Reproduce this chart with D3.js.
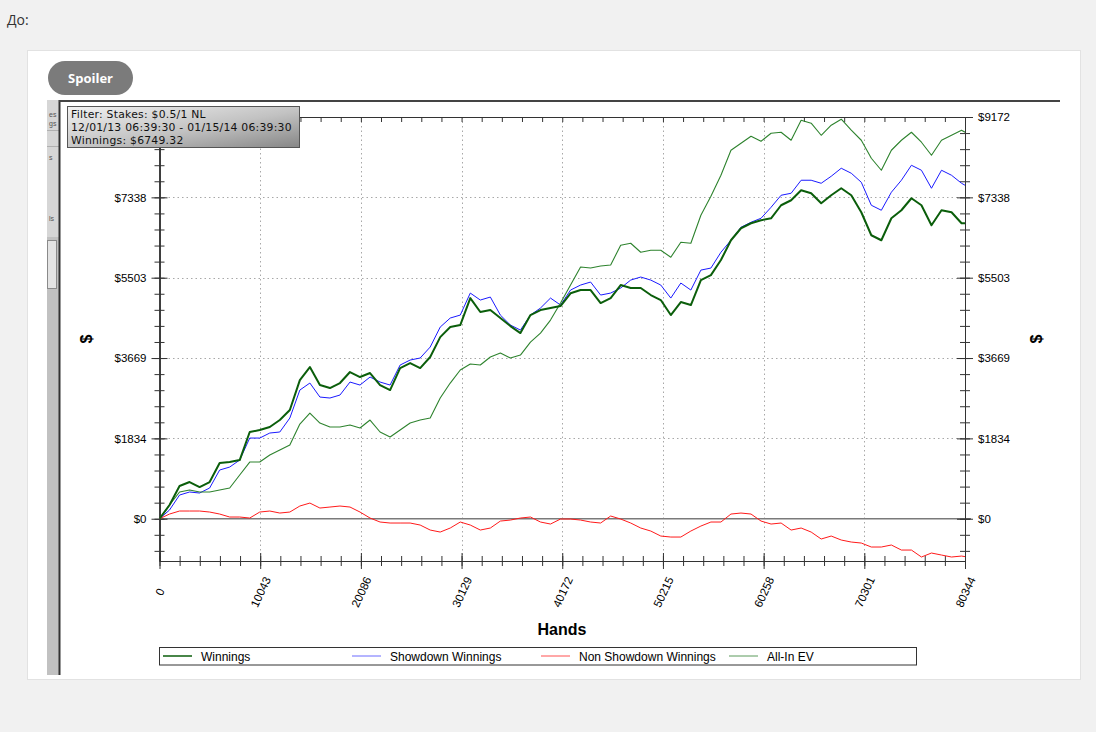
<!DOCTYPE html>
<html>
<head>
<meta charset="utf-8">
<script src="https://cdn.jsdelivr.net/npm/d3@7"></script>
<style>
  body { margin: 0; background: #f1f1f1; }
  svg { display: block; }
</style>
</head>
<body>
<svg id="chart" width="1096" height="732"></svg>
<script>
// hands sampled every 1000, last point = total
const hands = [0,1000,2000,3000,4000,5000,6000,7000,8000,9000,
  10000,11000,12000,13000,14000,15000,16000,17000,18000,19000,
  20000,21000,22000,23000,24000,25000,26000,27000,28000,29000,
  30000,31000,32000,33000,34000,35000,36000,37000,38000,39000,
  40000,41000,42000,43000,44000,45000,46000,47000,48000,49000,
  50000,51000,52000,53000,54000,55000,56000,57000,58000,59000,
  60000,61000,62000,63000,64000,65000,66000,67000,68000,69000,
  70000,71000,72000,73000,74000,75000,76000,77000,78000,79000,
  80000,80344];

const winnings = [0,313,747,838,724,838,1272,1294,1340,1980,
  2025,2094,2253,2482,3166,3463,3052,2984,3098,3349,
  3235,3326,3052,2938,3440,3554,3440,3692,4147,4376,
  4422,5038,4719,4765,4582,4399,4239,4650,4765,4810,
  4856,5147,5221,5221,4924,5038,5335,5267,5267,5107,
  4993,4650,4947,4879,5449,5563,5906,6358,6632,6746,
  6815,6860,7157,7271,7500,7431,7203,7385,7545,7385,
  6997,6472,6358,6860,7043,7317,7157,6700,7043,6997,
  6746,6749];

const showdown = [0,199,541,610,587,701,1112,1180,1340,1842,
  1842,1957,1980,2299,2938,3098,2778,2756,2824,3121,
  3052,3235,3121,3052,3509,3623,3669,3920,4376,4582,
  4650,5152,4993,5061,4650,4422,4307,4650,4810,5038,
  4879,5221,5335,5404,5107,5152,5267,5449,5518,5449,
  5335,5038,5381,5221,5677,5723,6084,6358,6655,6769,
  6860,7111,7385,7431,7728,7728,7659,7819,8002,7888,
  7682,7157,7043,7454,7728,8070,7956,7545,7956,7842,
  7659,7614];

const nonShowdown = [0,107,176,176,176,153,107,39,39,16,
  153,176,130,153,290,358,244,267,290,267,
  153,16,-75,-98,-98,-98,-144,-258,-304,-212,
  -75,-144,-258,-212,-53,-30,16,39,-75,-121,
  -7,-7,-30,-75,-98,62,-7,-98,-212,-281,
  -395,-418,-418,-281,-167,-75,-75,107,130,107,
  -53,-121,-98,-258,-212,-304,-463,-395,-486,-532,
  -555,-646,-646,-600,-715,-715,-874,-783,-829,-874,
  -852,-865];

const allInEV = [0,313,610,655,610,610,655,701,998,1294,
  1294,1454,1568,1683,2162,2413,2185,2094,2094,2139,
  2071,2253,1980,1865,2025,2185,2253,2299,2756,3098,
  3395,3532,3509,3692,3783,3669,3737,4034,4239,4536,
  4924,5335,5746,5723,5769,5792,6244,6290,6084,6130,
  6130,5970,6313,6290,6929,7363,7842,8413,8573,8732,
  8618,8801,8824,8641,9098,9030,8755,8984,9121,8870,
  8641,8230,7956,8413,8641,8824,8596,8299,8641,8755,
  8870,8824];

const xTicks = [0,10043,20086,30129,40172,50215,60258,70301,80344];
const yTicks = [0,1834.4,3668.8,5503.2,7337.6,9172];
const yTickLabels = ["$0","$1834","$3669","$5503","$7338","$9172"];
const yMin = -965;

const seriesNames = ["Winnings","Showdown Winnings","Non Showdown Winnings","All-In EV"];
const infoLines = ["Filter: Stakes: $0.5/1 NL","12/01/13 06:39:30 - 01/15/14 06:39:30","Winnings: $6749.32"];

const svg = d3.select("#chart");
const font = "'Liberation Sans', Arial, sans-serif";

// page around the screenshot
svg.append("text").attr("x", 7).attr("y", 25).attr("font-family", "'Open Sans', sans-serif")
  .attr("font-size", 14).attr("fill", "#333").text("До:");
svg.append("rect").attr("x", 27.5).attr("y", 50.5).attr("width", 1053).attr("height", 629)
  .attr("fill", "#fff").attr("stroke", "#e2e2e2");
svg.append("rect").attr("x", 48).attr("y", 61).attr("width", 85).attr("height", 34).attr("rx", 17)
  .attr("fill", "#7b7b7b");
svg.append("text").attr("x", 90.5).attr("y", 82.5).attr("text-anchor", "middle")
  .attr("font-family", "'Open Sans', sans-serif").attr("font-weight", "bold").attr("font-size", 13)
  .attr("fill", "#fff").text("Spoiler");

// left strip of the app window
svg.append("rect").attr("x", 47).attr("y", 100).attr("width", 12).attr("height", 575).attr("fill", "#c1c1c1");
svg.append("rect").attr("x", 47).attr("y", 100).attr("width", 12).attr("height", 137).attr("fill", "#d6d6d6");
svg.append("line").attr("x1", 47).attr("x2", 59).attr("y1", 130.5).attr("y2", 130.5).attr("stroke", "#b0b0b0");
svg.append("line").attr("x1", 47).attr("x2", 59).attr("y1", 146.5).attr("y2", 146.5).attr("stroke", "#b0b0b0");
svg.append("rect").attr("x", 47.5).attr("y", 240.5).attr("width", 9).attr("height", 48)
  .attr("fill", "#e4e4e4").attr("stroke", "#8a8a8a");
[["es", 117], ["gs", 126], ["s", 160], ["ls", 221]].forEach(([t, y]) => {
  svg.append("text").attr("x", 49).attr("y", y).attr("font-family", font).attr("font-size", 7)
    .attr("fill", "#555").text(t);
});
svg.append("line").attr("x1", 59.5).attr("x2", 59.5).attr("y1", 100).attr("y2", 675).attr("stroke", "#333").attr("stroke-width", 2);
svg.append("line").attr("x1", 59).attr("x2", 1060).attr("y1", 101).attr("y2", 101).attr("stroke", "#444").attr("stroke-width", 2);

// plot area
const x0 = 159.5, x1 = 965, yTop = 117, yBot = 561;
const x = d3.scaleLinear().domain([0, 80344]).range([x0, x1]);
const y = d3.scaleLinear().domain([yMin, 9172]).range([yBot, yTop]);

const minorX = d3.range(0, 80344.1, 80344 / 40);
const minorY = d3.range(-733.76, 9172.1, 1834.4 / 5);

const g = svg.append("g");

// dotted grid
g.selectAll(".gx").data(xTicks.slice(1, -1)).join("line")
  .attr("x1", d => Math.round(x(d)) + 0.5).attr("x2", d => Math.round(x(d)) + 0.5)
  .attr("y1", yTop).attr("y2", yBot)
  .attr("stroke", "#a8a8a8").attr("stroke-dasharray", "1.5,3");
g.selectAll(".gy").data(yTicks.slice(1, -1)).join("line")
  .attr("x1", x0).attr("x2", x1)
  .attr("y1", d => Math.round(y(d)) + 0.5).attr("y2", d => Math.round(y(d)) + 0.5)
  .attr("stroke", "#a8a8a8").attr("stroke-dasharray", "1.5,3");
g.append("line").attr("x1", x0).attr("x2", x1 + 6).attr("y1", y(0)).attr("y2", y(0))
  .attr("stroke", "#7a7a7a").attr("stroke-width", 1.6);

function styleAxis(sel) {
  sel.select(".domain").attr("stroke", "#333");
  sel.selectAll(".tick line").attr("stroke", "#333");
  sel.selectAll("text").attr("font-family", font).attr("font-size", 11.5).attr("fill", "#000");
}

// left axis (top label sits under the info box, so it is not shown)
g.append("g").attr("transform", `translate(${x0},0)`)
  .call(d3.axisLeft(y).tickValues(yTicks).tickSize(8).tickPadding(5).tickSizeOuter(0)
    .tickFormat((d, i) => i === yTicks.length - 1 ? "" : yTickLabels[i]))
  .call(styleAxis);
g.append("g").attr("transform", `translate(${x0},0)`)
  .call(d3.axisRight(y).tickValues(yTicks).tickSize(8).tickSizeOuter(0).tickFormat(""))
  .call(styleAxis);
g.append("g").attr("transform", `translate(${x0},0)`)
  .call(d3.axisLeft(y).tickValues(minorY).tickSize(5).tickSizeOuter(0).tickFormat(""))
  .call(styleAxis);
g.append("g").attr("transform", `translate(${x0},0)`)
  .call(d3.axisRight(y).tickValues(minorY).tickSize(5).tickSizeOuter(0).tickFormat(""))
  .call(styleAxis);

// right axis
g.append("g").attr("transform", `translate(${x1},0)`)
  .call(d3.axisRight(y).tickValues(yTicks).tickSize(8).tickPadding(5).tickSizeOuter(0)
    .tickFormat((d, i) => yTickLabels[i]))
  .call(styleAxis);
g.append("g").attr("transform", `translate(${x1},0)`)
  .call(d3.axisLeft(y).tickValues(yTicks).tickSize(8).tickSizeOuter(0).tickFormat(""))
  .call(styleAxis);
g.append("g").attr("transform", `translate(${x1},0)`)
  .call(d3.axisRight(y).tickValues(minorY).tickSize(5).tickSizeOuter(0).tickFormat(""))
  .call(styleAxis);
g.append("g").attr("transform", `translate(${x1},0)`)
  .call(d3.axisLeft(y).tickValues(minorY).tickSize(5).tickSizeOuter(0).tickFormat(""))
  .call(styleAxis);

// top axis
g.append("g").attr("transform", `translate(0,${yTop})`)
  .call(d3.axisBottom(x).tickValues(minorX).tickSize(5).tickSizeOuter(0).tickFormat(""))
  .call(styleAxis);

// bottom axis
g.append("g").attr("transform", `translate(0,${yBot})`)
  .call(d3.axisBottom(x).tickValues(minorX).tickSize(5).tickSizeOuter(0).tickFormat(""))
  .call(styleAxis);
g.append("g").attr("transform", `translate(0,${yBot})`)
  .call(d3.axisTop(x).tickValues(minorX).tickSize(5).tickSizeOuter(0).tickFormat(""))
  .call(styleAxis);
g.append("g").attr("transform", `translate(0,${yBot})`)
  .call(d3.axisTop(x).tickValues(xTicks).tickSize(8).tickSizeOuter(0).tickFormat(""))
  .call(styleAxis);
const xAxis = g.append("g").attr("transform", `translate(0,${yBot})`)
  .call(d3.axisBottom(x).tickValues(xTicks).tickSize(8).tickSizeOuter(0).tickFormat(d3.format("d")))
  .call(styleAxis);
xAxis.selectAll("text")
  .attr("text-anchor", "middle").attr("dy", "0.35em")
  .attr("transform", "translate(0,31) rotate(-65)")
  .attr("y", 0);

// series
svg.append("clipPath").attr("id", "plotclip").append("rect")
  .attr("x", x0).attr("y", yTop).attr("width", x1 - x0).attr("height", yBot - yTop);

const series = [
  { name: seriesNames[1], values: showdown, color: "#1a1aff", width: 1 },
  { name: seriesNames[2], values: nonShowdown, color: "#ff1a1a", width: 1 },
  { name: seriesNames[3], values: allInEV, color: "#2e832e", width: 1.1 },
  { name: seriesNames[0], values: winnings, color: "#0b5e0b", width: 2 }
];
const line = d3.line().x((d, i) => x(hands[i])).y(d => y(d));
svg.append("g").attr("clip-path", "url(#plotclip)")
  .selectAll("path").data(series).join("path")
  .attr("d", d => line(d.values))
  .attr("fill", "none")
  .attr("stroke", d => d.color)
  .attr("stroke-width", d => d.width)
  .attr("stroke-linejoin", "round");

// axis titles
svg.append("text").attr("x", 562).attr("y", 635).attr("text-anchor", "middle")
  .attr("font-family", font).attr("font-weight", "bold").attr("font-size", 16).text("Hands");
[86, 1036].forEach(cx => {
  svg.append("text").attr("transform", `translate(${cx},339) rotate(-90)`)
    .attr("text-anchor", "middle").attr("dy", "0.35em")
    .attr("font-family", font).attr("font-weight", "bold").attr("font-size", 16).text("$");
});

// info box
const grad = svg.append("defs").append("linearGradient").attr("id", "boxgrad")
  .attr("x1", "0").attr("y1", "0").attr("x2", "1").attr("y2", "1");
grad.append("stop").attr("offset", "0%").attr("stop-color", "#f2f2f2");
grad.append("stop").attr("offset", "55%").attr("stop-color", "#c2c2c2");
grad.append("stop").attr("offset", "100%").attr("stop-color", "#868686");
svg.append("rect").attr("x", 67.5).attr("y", 106.5).attr("width", 232).attr("height", 41)
  .attr("fill", "url(#boxgrad)").attr("stroke", "#555");
svg.selectAll(".info").data(infoLines).join("text")
  .attr("x", 71).attr("y", (d, i) => 117.5 + i * 13.2)
  .attr("font-family", "'DejaVu Sans', Verdana, sans-serif").attr("font-size", 10.8)
  .attr("letter-spacing", 0.25)
  .attr("fill", "#111").text(d => d);

// legend
const lg = svg.append("g");
lg.append("rect").attr("x", 159.5).attr("y", 647.5).attr("width", 757).attr("height", 17.5)
  .attr("fill", "#fff").attr("stroke", "#333");
const legendX = [163, 352, 541, 729];
const legendColors = ["#0b5e0b", "#6a6aff", "#ff5050", "#5a9a5a"];
seriesNames.forEach((name, i) => {
  lg.append("line").attr("x1", legendX[i]).attr("x2", legendX[i] + 29).attr("y1", 656).attr("y2", 656)
    .attr("stroke", legendColors[i]).attr("stroke-width", i === 0 ? 1.5 : 1);
  lg.append("text").attr("x", legendX[i] + 38).attr("y", 660.5)
    .attr("font-family", font).attr("font-size", 12).attr("fill", "#000").text(name);
});
</script>
</body>
</html>
